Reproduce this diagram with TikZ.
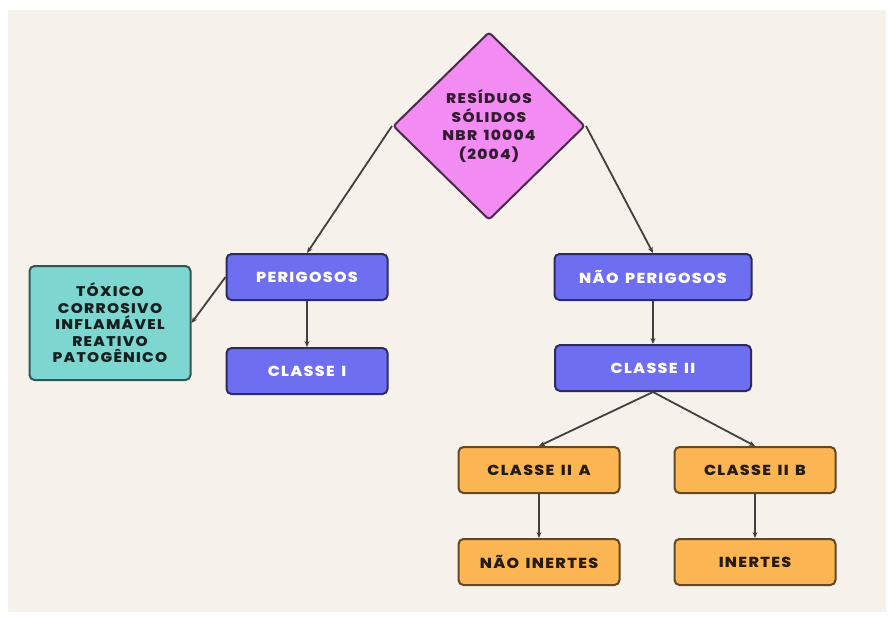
\documentclass[tikz,border=0pt]{standalone}
\usepackage{fontspec}
\setmainfont{Poppins}[BoldFont={Poppins ExtraBold}, BoldFeatures={FakeStretch=1.1}, LetterSpace=9, WordSpace=1.5]
\usetikzlibrary{arrows.meta, positioning, shapes.geometric}

\definecolor{fundo}{HTML}{F6F1EA}
\definecolor{rosa}{HTML}{F38CF2}
\definecolor{azul}{HTML}{6E6EF0}
\definecolor{laranja}{HTML}{FBB552}
\definecolor{turquesa}{HTML}{7DD6CF}

\begin{document}
\begin{tikzpicture}[x=1pt, y=1pt, >={Stealth[length=6pt, width=5pt]}, line width=1.8pt,
  every node/.style={rounded corners=5pt, line width=2pt, align=center,
    font=\fontsize{14.5}{16}\selectfont\bfseries},
  caixa/.style={draw=#1!40!black, fill=#1, minimum width=161pt, minimum height=46pt}]

  % Background
  \useasboundingbox (0,0) rectangle (894,-622);
  \fill[fundo] (8,-10) rectangle (886,-612);

  % Nodes
  \node (R) [diamond, draw=rosa!30!black, fill=rosa, rounded corners=3pt,
    minimum width=192pt, minimum height=188pt, inner sep=0pt, text=rosa!20!black,
    font=\fontsize{14}{18.5}\selectfont\bfseries] at (489,-126)
    {RESÍDUOS\\SÓLIDOS\\NBR 10004\\(2004)};
  \node (P) [caixa=azul, text=white] at (307,-277) {PERIGOSOS};
  \node (C1) [caixa=azul, text=white, below=46pt of P] {CLASSE I};
  \node (T) [caixa=turquesa, minimum height=114pt, text=turquesa!15!black,
    font=\fontsize{14}{16.5}\selectfont\bfseries] at (110,-323)
    {TÓXICO\\CORROSIVO\\INFLAMÁVEL\\REATIVO\\PATOGÊNICO};
  \node (N) [caixa=azul, text=white, minimum width=197pt] at (653,-277) {NÃO PERIGOSOS};
  \node (C2) [caixa=azul, text=white, minimum width=196pt, below=43pt of N] {CLASSE II};
  \node (A) [caixa=laranja, text=laranja!15!black] at (539,-470) {CLASSE II A};
  \node (B) [caixa=laranja, text=laranja!15!black] at (755,-470) {CLASSE II B};
  \node (NI) [caixa=laranja, text=laranja!15!black, below=44pt of A] {NÃO INERTES};
  \node (I) [caixa=laranja, text=laranja!15!black, below=44pt of B] {INERTES};

  % Edges
  \draw[->, draw=black!75] (R.west) -- (P.north);
  \draw[->, draw=black!75] (R.east) -- (N.north);
  \draw[->, draw=black!75] (P.west) -- (T.east);
  \draw[->, draw=black!75] (P) -- (C1);
  \draw[->, draw=black!75] (N) -- (C2);
  \draw[->, draw=black!75] (C2.south) -- (A.north);
  \draw[->, draw=black!75] (C2.south) -- (B.north);
  \draw[->, draw=black!75] (A) -- (NI);
  \draw[->, draw=black!75] (B) -- (I);

\end{tikzpicture}
\end{document}
